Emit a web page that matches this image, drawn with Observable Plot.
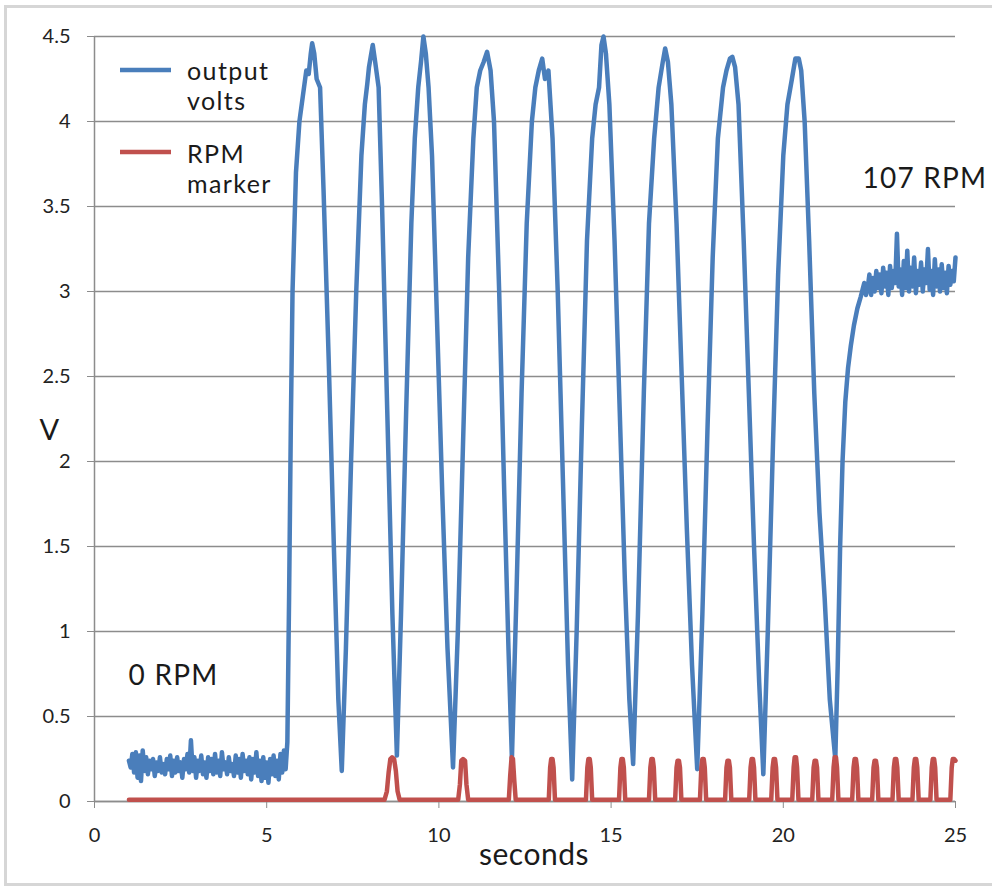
<!DOCTYPE html>
<html>
<head>
<meta charset="utf-8">
<script src="https://cdn.jsdelivr.net/npm/d3@7"></script>
<script src="https://cdn.jsdelivr.net/npm/@observablehq/plot@0.6"></script>
<style>
  html, body { margin: 0; padding: 0; background: #fff; }
  #wrap { position: relative; width: 992px; height: 886px; overflow: hidden; font-family: Lato, "Open Sans", sans-serif; }
  #border { position: absolute; left: 4px; top: 5px; width: 1000px; height: 881px; border: 3px solid #d6d6d6; box-sizing: border-box; }
  #chart { position: absolute; left: 0; top: 0; }
  #legend { position: absolute; left: 0; top: 0; }
</style>
</head>
<body>
<div id="wrap">
  <div id="border"></div>
  <div id="chart"></div>
  <svg id="legend" width="330" height="220"></svg>
</div>
<script>
// ---- data (time in seconds, value in volts) ----
const xTicks = [0, 5, 10, 15, 20, 25];
const yTicks = [0, 0.5, 1, 1.5, 2, 2.5, 3, 3.5, 4, 4.5];

// output volts: idle (0 RPM) section
const voltsIdle = [
  [1.00,0.24],[1.05,0.20],[1.10,0.28],[1.15,0.17],[1.20,0.29],[1.25,0.14],[1.30,0.27],[1.35,0.12],[1.40,0.30],[1.45,0.18],
  [1.50,0.26],[1.55,0.16],[1.60,0.24],[1.65,0.19],[1.70,0.25],[1.75,0.15],[1.80,0.23],[1.85,0.18],[1.90,0.26],[1.95,0.17],
  [2.00,0.22],[2.05,0.16],[2.10,0.25],[2.15,0.19],[2.20,0.27],[2.25,0.15],[2.30,0.24],[2.35,0.17],[2.40,0.26],[2.45,0.18],
  [2.50,0.23],[2.55,0.14],[2.60,0.25],[2.65,0.19],[2.70,0.28],[2.75,0.17],[2.80,0.36],[2.85,0.18],[2.90,0.26],[2.95,0.14],
  [3.00,0.24],[3.05,0.18],[3.10,0.27],[3.15,0.16],[3.20,0.23],[3.25,0.14],[3.30,0.26],[3.35,0.18],[3.40,0.25],[3.45,0.16],
  [3.50,0.28],[3.55,0.17],[3.60,0.24],[3.65,0.15],[3.70,0.29],[3.75,0.19],[3.80,0.23],[3.85,0.16],[3.90,0.26],[3.95,0.18],
  [4.00,0.22],[4.05,0.15],[4.10,0.27],[4.15,0.17],[4.20,0.25],[4.25,0.14],[4.30,0.28],[4.35,0.18],[4.40,0.24],[4.45,0.16],
  [4.50,0.26],[4.55,0.13],[4.60,0.25],[4.65,0.17],[4.70,0.29],[4.75,0.15],[4.80,0.24],[4.85,0.12],[4.90,0.26],[4.95,0.14],
  [5.00,0.23],[5.05,0.11],[5.10,0.25],[5.15,0.16],[5.20,0.27],[5.25,0.15],[5.30,0.24],[5.35,0.13],[5.40,0.28],[5.45,0.17],
  [5.50,0.30],[5.55,0.19]
];

// output volts: rotating section (nine cycles)
const voltsCycles = [
  [5.60,0.35],[5.65,1.20],[5.70,2.20],[5.75,3.00],[5.85,3.70],[5.95,4.00],[6.05,4.15],[6.15,4.30],[6.22,4.28],[6.28,4.40],[6.32,4.46],[6.38,4.40],[6.45,4.25],[6.55,4.20],[6.65,3.60],[6.80,2.60],[6.95,1.50],[7.08,0.60],
  [7.18,0.18],[7.30,0.90],[7.45,2.00],[7.60,3.00],[7.75,3.80],[7.85,4.10],[7.92,4.22],[7.97,4.32],[8.02,4.38],[8.08,4.45],[8.15,4.35],[8.25,4.20],[8.35,3.50],[8.50,2.30],[8.65,1.10],
  [8.78,0.27],[8.90,1.10],[9.05,2.30],[9.20,3.40],[9.30,3.90],[9.40,4.20],[9.48,4.35],[9.55,4.50],[9.62,4.40],[9.70,4.20],[9.80,3.80],[9.95,2.80],[10.10,1.80],[10.25,0.90],
  [10.41,0.20],[10.55,1.00],[10.70,2.10],[10.85,3.20],[11.00,3.90],[11.10,4.20],[11.20,4.30],[11.30,4.35],[11.40,4.41],[11.50,4.30],[11.60,4.00],[11.75,3.00],[11.90,1.80],[12.02,0.90],
  [12.12,0.25],[12.25,1.20],[12.40,2.40],[12.55,3.40],[12.70,4.00],[12.80,4.20],[12.90,4.30],[13.00,4.37],[13.08,4.25],[13.18,4.30],[13.30,3.90],[13.45,3.00],[13.60,1.90],[13.75,0.80],
  [13.87,0.13],[14.00,1.00],[14.15,2.20],[14.30,3.30],[14.45,3.90],[14.55,4.10],[14.65,4.20],[14.72,4.45],[14.78,4.50],[14.85,4.40],[14.95,4.10],[15.10,3.30],[15.25,2.30],[15.40,1.30],[15.53,0.60],
  [15.64,0.22],[15.78,1.10],[15.95,2.40],[16.10,3.40],[16.25,3.90],[16.38,4.20],[16.50,4.35],[16.57,4.43],[16.65,4.35],[16.75,4.10],[16.90,3.40],[17.05,2.50],[17.20,1.60],[17.35,0.80],
  [17.50,0.19],[17.65,1.10],[17.80,2.20],[17.95,3.20],[18.10,3.90],[18.25,4.20],[18.35,4.30],[18.45,4.37],[18.52,4.38],[18.60,4.32],[18.70,4.10],[18.85,3.30],[19.00,2.40],[19.15,1.50],[19.30,0.70],
  [19.42,0.16],[19.55,1.00],[19.70,2.10],[19.85,3.10],[20.00,3.80],[20.12,4.10],[20.25,4.25],[20.35,4.37],[20.45,4.37],[20.52,4.30],[20.62,4.00],[20.75,3.30],[20.90,2.40],[21.05,1.70],[21.20,1.20],[21.35,0.60],
  [21.51,0.25],[21.58,0.80],[21.65,1.50],[21.72,2.00],[21.80,2.35],[21.88,2.55],[21.96,2.68],[22.05,2.80],[22.15,2.90],[22.25,2.97],[22.35,3.05],[22.40,2.98]
];

// output volts: steady (107 RPM) section
const voltsSteady = [
  [22.45,3.02],[22.50,3.10],[22.55,2.98],[22.60,3.08],[22.65,3.00],[22.70,3.12],[22.75,3.02],[22.80,3.10],[22.85,2.99],[22.90,3.14],
  [22.95,3.03],[23.00,3.11],[23.05,2.98],[23.10,3.15],[23.15,3.02],[23.20,3.12],[23.25,3.05],[23.30,3.34],[23.35,3.03],[23.40,3.13],
  [23.45,2.98],[23.50,3.18],[23.55,3.02],[23.60,3.24],[23.65,3.00],[23.70,3.14],[23.75,3.03],[23.80,3.20],[23.85,2.99],[23.90,3.12],
  [23.95,3.04],[24.00,3.17],[24.05,3.00],[24.10,3.13],[24.15,3.05],[24.20,3.25],[24.25,3.01],[24.30,3.12],[24.35,2.98],[24.40,3.19],
  [24.45,3.03],[24.50,3.13],[24.55,3.00],[24.60,3.16],[24.65,3.02],[24.70,3.11],[24.75,2.99],[24.80,3.15],[24.85,3.04],[24.90,3.12],
  [24.95,3.06],[25.00,3.20]
];

// RPM marker pulses
const rpmMarker = [
  [1.00,0.01],[8.42,0.01],[8.49,0.06],[8.54,0.17],[8.59,0.25],[8.64,0.26],[8.70,0.25],[8.75,0.18],[8.80,0.06],[8.86,0.01],
  [10.56,0.01],[10.61,0.10],[10.65,0.24],[10.70,0.25],[10.76,0.24],[10.80,0.10],[10.85,0.01],
  [12.03,0.01],[12.07,0.15],[12.11,0.26],[12.15,0.25],[12.19,0.12],[12.23,0.01],
  [13.19,0.01],[13.23,0.20],[13.26,0.25],[13.30,0.25],[13.33,0.20],[13.37,0.01],
  [14.27,0.01],[14.31,0.20],[14.34,0.25],[14.38,0.25],[14.41,0.20],[14.45,0.01],
  [15.23,0.01],[15.27,0.20],[15.30,0.25],[15.34,0.25],[15.37,0.20],[15.41,0.01],
  [16.10,0.01],[16.14,0.20],[16.17,0.25],[16.21,0.25],[16.24,0.20],[16.28,0.01],
  [16.86,0.01],[16.90,0.20],[16.93,0.24],[16.97,0.24],[17.00,0.20],[17.04,0.01],
  [17.58,0.01],[17.62,0.20],[17.65,0.25],[17.69,0.25],[17.72,0.20],[17.76,0.01],
  [18.31,0.01],[18.35,0.20],[18.38,0.24],[18.42,0.24],[18.45,0.20],[18.49,0.01],
  [19.01,0.01],[19.05,0.20],[19.08,0.25],[19.12,0.25],[19.15,0.20],[19.19,0.01],
  [19.65,0.01],[19.69,0.20],[19.72,0.25],[19.76,0.25],[19.79,0.20],[19.83,0.01],
  [20.26,0.01],[20.30,0.20],[20.33,0.26],[20.37,0.26],[20.40,0.20],[20.44,0.01],
  [20.84,0.01],[20.88,0.20],[20.91,0.24],[20.95,0.24],[20.98,0.20],[21.02,0.01],
  [21.42,0.01],[21.46,0.20],[21.49,0.26],[21.53,0.26],[21.56,0.20],[21.60,0.01],
  [22.00,0.01],[22.04,0.20],[22.07,0.25],[22.11,0.25],[22.14,0.20],[22.18,0.01],
  [22.58,0.01],[22.62,0.20],[22.65,0.24],[22.69,0.24],[22.72,0.20],[22.76,0.01],
  [23.17,0.01],[23.21,0.20],[23.24,0.25],[23.28,0.25],[23.31,0.20],[23.35,0.01],
  [23.75,0.01],[23.79,0.20],[23.82,0.25],[23.86,0.25],[23.89,0.20],[23.93,0.01],
  [24.27,0.01],[24.31,0.20],[24.34,0.25],[24.38,0.25],[24.41,0.20],[24.45,0.01],
  [24.85,0.01],[24.89,0.20],[24.92,0.25],[24.96,0.25],[25.00,0.24]
];

const annotations = [
  {t: 0.99, v: 0.74, label: "0 RPM"},
  {t: 22.3, v: 3.66, label: "107 RPM"}
];

const outputVolts = [...voltsIdle, ...voltsCycles, ...voltsSteady];

const BLUE = "#4a7ebb";
const RED = "#c0504d";
const GRID = "#8c8c8c";

const chart = Plot.plot({
  width: 992,
  height: 886,
  marginLeft: 94,
  marginRight: 37,
  marginTop: 36,
  marginBottom: 85,
  x: {domain: [0, 25]},
  y: {domain: [0, 4.5]},
  style: {fontFamily: "Lato, 'Open Sans', sans-serif", background: "transparent", overflow: "visible"},
  marks: [
    Plot.gridY(yTicks, {stroke: GRID, strokeOpacity: 1, strokeWidth: 1.3}),
    Plot.axisY(yTicks, {tickSize: 7, tickPadding: 17, fontSize: 20, label: null, stroke: GRID, fill: "#222", tickFormat: d => String(d)}),
    Plot.axisX(xTicks, {tickSize: 7, tickPadding: 19, fontSize: 20, label: null, stroke: GRID, fill: "#222", tickFormat: d => String(d)}),
    Plot.ruleX([0], {stroke: GRID, strokeWidth: 1.5}),
    Plot.ruleY([0], {stroke: GRID, strokeWidth: 1.5}),
    Plot.line(outputVolts, {x: d => d[0], y: d => d[1], stroke: BLUE, strokeWidth: 4.5, strokeLinejoin: "round"}),
    Plot.line(rpmMarker, {x: d => d[0], y: d => d[1], stroke: RED, strokeWidth: 4.5, strokeLinejoin: "round"}),
    Plot.text(annotations, {x: "t", y: "v", text: "label", textAnchor: "start", fontSize: 28, fill: "#1a1a1a", style: "letter-spacing:1px"}),
    Plot.text(["V"], {frameAnchor: "left", dx: -55, dy: 12, fontSize: 29, fill: "#1a1a1a"}),
    Plot.text(["seconds"], {frameAnchor: "bottom", dx: 9, dy: 63, fontSize: 30, fill: "#1a1a1a", style: "letter-spacing:0.5px"})
  ]
});
document.getElementById("chart").appendChild(chart);

// letter spacing for annotation texts
d3.select(chart).selectAll("text").filter(function() {
  const t = this.textContent; return t === "0 RPM" || t === "107 RPM" || t === "seconds";
}).attr("letter-spacing", function() { return this.textContent === "seconds" ? 0.5 : 1.2; });

// legend inside the plot area (upper left)
const legendItems = [
  {color: BLUE, lines: ["output", "volts"]},
  {color: RED, lines: ["RPM", "marker"]}
];
const lg = d3.select("#legend");
const rows = [{ly: 70, ty: 80}, {ly: 152, ty: 163}];
legendItems.forEach((item, i) => {
  lg.append("line").attr("x1", 120).attr("x2", 171).attr("y1", rows[i].ly).attr("y2", rows[i].ly)
    .attr("stroke", item.color).attr("stroke-width", 4.5);
  item.lines.forEach((s, j) => {
    lg.append("text").attr("x", 187).attr("y", rows[i].ty + j * 30)
      .attr("font-family", "Lato, 'Open Sans', sans-serif").attr("font-size", 25)
      .attr("letter-spacing", 1.4).attr("fill", "#1a1a1a").text(s);
  });
});
</script>
</body>
</html>
